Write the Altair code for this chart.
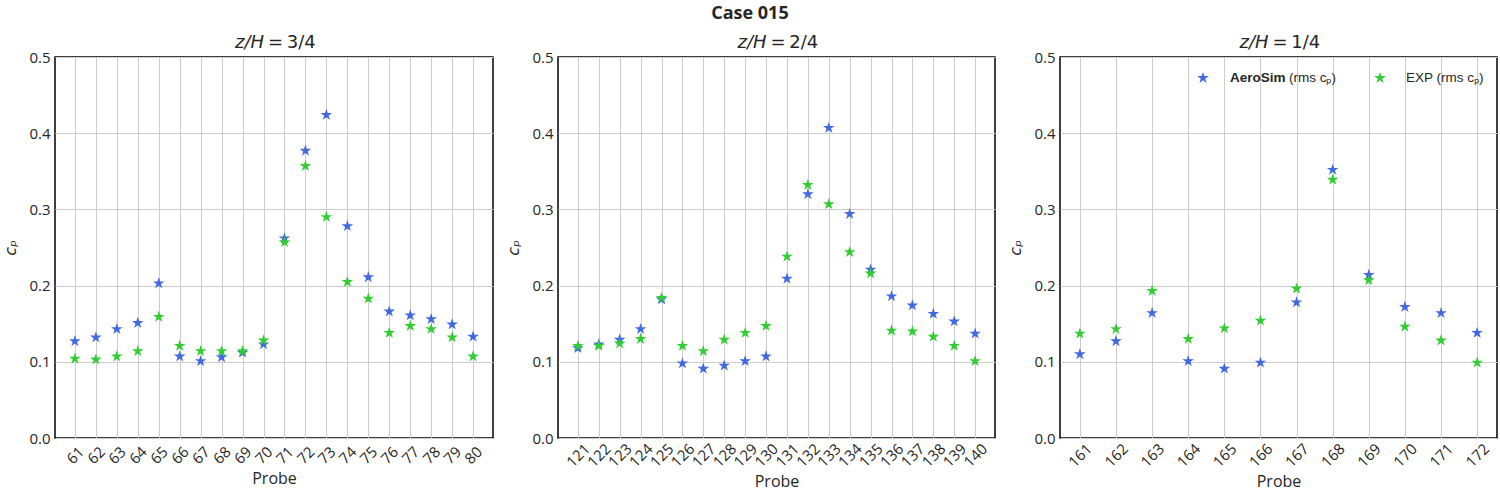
import altair as alt
import pandas as pd

# ---- data ----
probes_1 = list(range(61, 81))
aerosim_1 = [0.127, 0.132, 0.143, 0.151, 0.203, 0.107, 0.101, 0.106, 0.112, 0.123,
             0.262, 0.377, 0.424, 0.278, 0.211, 0.166, 0.161, 0.156, 0.149, 0.133]
exp_1 = [0.104, 0.103, 0.107, 0.114, 0.159, 0.121, 0.114, 0.114, 0.114, 0.128,
         0.257, 0.357, 0.290, 0.205, 0.183, 0.138, 0.147, 0.143, 0.132, 0.107]

probes_2 = list(range(121, 141))
aerosim_2 = [0.118, 0.123, 0.129, 0.143, 0.182, 0.098, 0.091, 0.095, 0.101, 0.107,
             0.209, 0.320, 0.407, 0.294, 0.221, 0.186, 0.174, 0.163, 0.153, 0.137]
exp_2 = [0.121, 0.121, 0.124, 0.130, 0.184, 0.121, 0.114, 0.129, 0.138, 0.147,
         0.238, 0.332, 0.307, 0.244, 0.216, 0.141, 0.140, 0.133, 0.121, 0.101]

probes_3 = list(range(161, 173))
aerosim_3 = [0.110, 0.127, 0.164, 0.101, 0.091, 0.099, 0.178, 0.352, 0.214, 0.172, 0.164, 0.138]
exp_3 = [0.137, 0.143, 0.193, 0.130, 0.144, 0.154, 0.196, 0.339, 0.207, 0.146, 0.128, 0.099]

title_var = "z/H"
title_levels = ["=\u20093/4", "=\u20092/4", "=\u20091/4"]
series_names = ["AeroSim", "EXP"]
series_colors = ["#4169e1", "#32cd32"]
y_ticks = [0.0, 0.1, 0.2, 0.3, 0.4, 0.5]

FONT = "Open Sans"
MATH = "DejaVu Sans"
TXT = "#262626"
STAR = 150
STAR_PATH = ("M0,-1L0.225,-0.309L0.951,-0.309L0.363,0.118L0.588,0.809L0,0.382"
             "L-0.588,0.809L-0.363,0.118L-0.951,-0.309L-0.225,-0.309Z")
H = 381


def panel(level, probes, sim, exp, w, legend=False):
    n = len(probes)
    df = pd.DataFrame({
        "Probe": probes + probes,
        "cp": sim + exp,
        "Series": [series_names[0]] * n + [series_names[1]] * n,
    })
    margin = 0.05 * (max(probes) - min(probes))
    lo = float(min(probes) - margin)
    hi = float(max(probes) + margin)
    x = alt.X("Probe:Q",
              scale=alt.Scale(domain=[lo, hi], nice=False, zero=False),
              axis=alt.Axis(values=probes, format="d", labelAngle=-45, labelAlign="center",
                            labelBaseline="middle", labelPadding=17, labelOverlap=False,
                            title="Probe", titlePadding=4))
    y = alt.Y("cp:Q", scale=alt.Scale(domain=[0, 0.5], nice=False),
              axis=alt.Axis(values=y_ticks, format=".1f", title="cₚ", titleFont=MATH,
                            titleFontStyle="italic", titleFontSize=16, titlePadding=10,
                            labelPadding=5))
    pts = alt.Chart(df).mark_point(shape=STAR_PATH, filled=True, size=STAR, opacity=1).encode(
        x=x, y=y,
        color=alt.Color("Series:N", scale=alt.Scale(domain=series_names, range=series_colors), legend=None),
    )
    tdf = alt.Chart(pd.DataFrame({"t": [level]}))
    c = w / 2
    layers = [
        pts,
        tdf.mark_text(align="right", baseline="alphabetic", font=MATH, fontSize=18,
                      fontStyle="italic", color=TXT
                      ).encode(x=alt.value(c - 10), y=alt.value(-9), text=alt.value(title_var)),
        tdf.mark_text(align="left", baseline="alphabetic", font=MATH, fontSize=18, color=TXT
                      ).encode(x=alt.value(c - 6), y=alt.value(-9), text="t:N"),
    ]
    if legend:
        leg = pd.DataFrame({"Series": series_names})
        base = alt.Chart(leg)
        layers += [
            base.transform_filter("datum.Series == 'AeroSim'").mark_point(
                shape=STAR_PATH, filled=True, size=STAR, color=series_colors[0], opacity=1
            ).encode(x=alt.value(143), y=alt.value(21)),
            base.transform_filter("datum.Series == 'EXP'").mark_point(
                shape=STAR_PATH, filled=True, size=STAR, color=series_colors[1], opacity=1
            ).encode(x=alt.value(320), y=alt.value(21)),
            base.transform_filter("datum.Series == 'AeroSim'").mark_text(
                align="left", baseline="middle", font="Liberation Sans", fontSize=13.5,
                fontWeight="bold", color=TXT
            ).encode(x=alt.value(170), y=alt.value(21), text=alt.value("AeroSim")),
            base.transform_filter("datum.Series == 'AeroSim'").mark_text(
                align="left", baseline="middle", font="Liberation Sans", fontSize=13.5, color=TXT
            ).encode(x=alt.value(229), y=alt.value(21), text=alt.value("(rms cₚ)")),
            base.transform_filter("datum.Series == 'EXP'").mark_text(
                align="left", baseline="middle", font="Liberation Sans", fontSize=13.5, color=TXT
            ).encode(x=alt.value(346), y=alt.value(21), text=alt.value("EXP (rms cₚ)")),
        ]
    return alt.layer(*layers).properties(width=w, height=H)


chart = alt.hconcat(
    panel(title_levels[0], probes_1, aerosim_1, exp_1, 438),
    panel(title_levels[1], probes_2, aerosim_2, exp_2, 437),
    panel(title_levels[2], probes_3, aerosim_3, exp_3, 437, legend=True),
    spacing=11,
).properties(
    title=alt.TitleParams("Case 015", font=FONT, fontSize=18, fontWeight="bold", color=TXT,
                          anchor="middle", offset=10),
    padding={"left": 2, "right": 2, "top": 5, "bottom": 5},
).configure_view(
    stroke="black", strokeWidth=1.5
).configure_axis(
    grid=True, gridColor="#cccccc", gridWidth=1, domain=False, ticks=False,
    labelFont=FONT, labelFontSize=15, labelColor=TXT,
    titleFont=FONT, titleFontSize=16, titleFontWeight="normal", titleColor=TXT,
)

chart.save("out.html", embed_options={"renderer": "svg", "actions": False})
